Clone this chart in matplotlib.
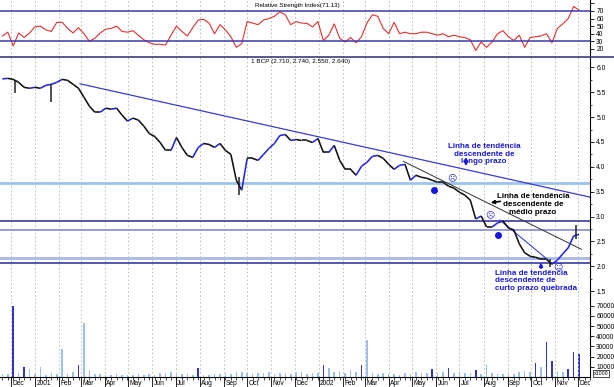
import numpy as np
import pandas as pd
import matplotlib
matplotlib.use('Agg')
import matplotlib.pyplot as plt
import matplotlib.dates as mdates
from matplotlib.collections import LineCollection
from matplotlib.lines import Line2D
from matplotlib.transforms import Bbox, TransformedBbox, ScaledTranslation

plt.rcParams['font.family'] = ['Liberation Sans', 'DejaVu Sans']

# weekly samples (one per week from 2000-11-20)
first_week = '2000-11-20'
close = [5.77, 5.78, 5.76, 5.70, 5.60, 5.58, 5.60, 5.58, 5.64, 5.66,
         5.70, 5.76, 5.74, 5.66, 5.58, 5.40, 5.22, 5.10, 5.10, 5.18,
         5.16, 5.18, 5.04, 4.92, 4.98, 4.94, 4.82, 4.67, 4.61, 4.49,
         4.33, 4.33, 4.59, 4.39, 4.23, 4.19, 4.39, 4.47, 4.45, 4.39,
         4.47, 4.33, 4.25, 3.73, 3.53, 4.17, 4.17, 4.13, 4.25, 4.37,
         4.47, 4.63, 4.65, 4.53, 4.55, 4.53, 4.53, 4.49, 4.57, 4.29,
         4.29, 4.43, 4.13, 3.95, 3.95, 3.83, 4.01, 4.09, 4.21, 4.23,
         4.17, 4.05, 3.95, 4.03, 4.05, 3.73, 3.83, 3.79, 3.77, 3.73,
         3.69, 3.69, 3.61, 3.57, 3.49, 3.43, 3.33, 2.95, 3.01, 2.79,
         2.79, 2.87, 2.91, 2.77, 2.73, 2.45, 2.27, 2.20, 2.18, 2.14,
         2.14, 2.04, 2.12, 2.25, 2.37, 2.61, 2.64]
rsi = [37, 42, 24, 41, 35, 41, 49, 50, 45, 43,
       55, 55, 47, 41, 48, 40, 30, 34, 41, 46,
       47, 50, 43, 42, 44, 38, 32, 28, 26, 26,
       25, 38, 50, 43, 37, 48, 58, 59, 54, 40,
       52, 45, 36, 22, 27, 56, 54, 52, 58, 60,
       63, 69, 65, 52, 56, 54, 53.6, 49, 56, 31,
       38, 53, 34, 29, 35, 28, 36, 54, 65, 63,
       47, 40, 55, 40, 42, 40, 40, 42, 42, 40,
       38, 40, 36, 38, 36, 35, 32, 18, 29, 22,
       29, 40, 44, 36, 31, 38, 22, 35, 36, 37,
       40, 28, 47, 53, 60, 76, 71.13]
volume = [3000, 2500, 70000, 4000, 10000, 8000, 3000, 10000, 2000, 4000,
          2500, 27500, 3000, 4500, 12000, 53000, 7000, 3000, 2500, 2000,
          1500, 2500, 2000, 1500, 2000, 3000, 2000, 2500, 1500, 3500,
          4000, 5000, 3000, 2500, 3000, 2000, 9000, 2000, 1500, 3000,
          2500, 3500, 3000, 4500, 5000, 3500, 3000, 4000, 3500, 4500,
          3000, 3500, 4000, 3000, 4500, 5000, 3000, 3500, 4000, 12000,
          9000, 5000, 6000, 4000, 6500, 5000, 12000, 36000, 4000, 3000,
          3500, 2500, 3000, 2000, 4000, 3000, 5000, 3500, 4000, 8000,
          4000, 5000, 9000, 4000, 5000, 3500, 4000, 7000, 3000, 12000,
          4000, 3000, 2500, 3000, 2500, 5000, 6000, 5000, 14000, 10000,
          34000, 16000, 6000, 5000, 8000, 25000, 23000]

# single-day extremes that stick out of the weekly line
spike_dates = ['2000-12-06', '2001-01-22', '2001-09-21', '2002-10-25', '2002-11-28']
spike_low = [5.48, 5.30, 3.43, 1.99, 2.55]
spike_high = [5.74, 5.66, 3.80, 2.14, 2.82]

levels = [3.68, 2.90, 2.72, 2.16, 2.06]
level_colors = ['#9cc4ee', '#3a3aa0', '#8a8ad0', '#a8b8e8', '#3a3aa0']
level_widths = [2.0, 1.2, 1.2, 2.0, 1.2]

long_dates, long_price = ['2001-02-28', '2002-12-16'], [5.67, 3.39]
mid_dates, mid_price = ['2002-04-20', '2002-12-05'], [4.11, 2.34]
short_dates, short_price = ['2002-08-22', '2002-10-22'], [2.93, 2.14]

dot_dates, dot_price = ['2002-05-29', '2002-08-20'], [3.53, 2.63]
face_dates = ['2002-06-21', '2002-08-09', '2002-11-05']
face_price = [3.77, 3.03, 1.99]
face_chars = ['\u2639', '\u2639', '\u263a']

# weeks whose volume bar is drawn dark blue
dark_vol_weeks = {2, 4, 14, 36, 59, 66, 79, 82, 87, 98, 100, 101, 104, 105, 106}

W, H = 614, 387
R = 590 / W


def fx(x):
    return x / W


def fy(y):
    return 1 - y / H


def box(top, bottom):
    return [0, 1 - bottom / H, R, (bottom - top) / H]


fig = plt.figure(figsize=(6.14, 3.87), dpi=100)
ax_rsi = fig.add_axes(box(0, 56.5))
ax_px = fig.add_axes(box(56.5, 300), sharex=ax_rsi)
ax_vol = fig.add_axes(box(300, 377), sharex=ax_rsi)

dates = pd.date_range(first_week, periods=len(close), freq='7D')
xd = mdates.date2num(dates)
close_a = np.array(close)

# RSI
ax_rsi.plot(dates, rsi, color='#e23030', lw=0.8)
ax_rsi.axhline(70, color='#3a3ab0', lw=1.1)
ax_rsi.axhline(30, color='#3a3ab0', lw=1.1)
ax_rsi.set_ylim(9.9, 84.5)
ax_rsi.set_yticks(range(20, 81, 10), ['20', '30', '40', '50', '60', '70', ''])

# price
for lv, c, w in zip(levels, level_colors, level_widths):
    ax_px.axhline(lv, color=c, lw=w)
ax_px.plot(pd.to_datetime(long_dates), long_price, color='#3c3cd0', lw=0.9)
ax_px.plot(pd.to_datetime(mid_dates), mid_price, color='#303030', lw=0.7)
ax_px.plot(pd.to_datetime(short_dates), short_price, color='#4040d0', lw=0.8)

pts = np.column_stack([xd, close_a])
segs = np.stack([pts[:-1], pts[1:]], axis=1)
seg_colors = ['#2424dc' if b > a else '#111111' for a, b in zip(close_a[:-1], close_a[1:])]
ax_px.add_collection(LineCollection(segs, colors=seg_colors, lw=1.15))
ax_px.vlines(pd.to_datetime(spike_dates), spike_low, spike_high, colors='#202020', lw=1.1)

ax_px.plot(pd.to_datetime(dot_dates), dot_price, 'o', ms=4, color='#1515e0')
for d, p, ch in zip(face_dates, face_price, face_chars):
    ax_px.text(pd.to_datetime(d), p, ch, fontsize=6.5, color='#2a2ae0',
               ha='center', va='center', family='DejaVu Sans')
ax_px.set_ylim(1.32, 6.22)
ax_px.set_yticks(np.arange(1.5, 6.01, 0.5), ['%.1f' % v for v in np.arange(1.5, 6.01, 0.5)])
ax_px.set_yticks(np.arange(1.5, 6.2, 0.25), minor=True)

# volume
vol_colors = ['#3434c8' if i in dark_vol_weeks else '#9cc0ee' for i in range(len(volume))]
ax_vol.bar(dates, volume, width=2.0, color=vol_colors, linewidth=0)
ax_vol.set_ylim(0, 75700)
ax_vol.set_yticks(range(10000, 70001, 10000))

# shared x axis: month grid
months = pd.date_range('2000-12-01', '2002-12-01', freq='MS')
mlabels = [str(m.year) if m.month == 1 else m.strftime('%b') for m in months]
ax_vol.set_xticks(months, mlabels)
ax_vol.xaxis.set_minor_locator(mdates.WeekdayLocator(byweekday=mdates.MO))
ax_vol.set_xlim(pd.Timestamp('2000-11-17'), pd.Timestamp('2002-12-16'))

for ax in (ax_rsi, ax_px, ax_vol):
    ax.yaxis.tick_right()
    ax.tick_params(axis='y', which='major', labelsize=4.8, length=3, width=0.6, pad=1.5)
    ax.tick_params(axis='y', which='minor', length=1.5, width=0.5)
    ax.grid(axis='x', which='major', color='#a8c4a8', ls=(0, (1.5, 2.5)), lw=0.7)
    ax.spines['top'].set_visible(False)
    ax.spines['left'].set_visible(False)
    ax.spines['right'].set_linewidth(0.8)
    ax.set_facecolor('none')
for ax in (ax_rsi, ax_px):
    ax.spines['bottom'].set_visible(False)
    ax.tick_params(axis='x', which='both', bottom=False, labelbottom=False)
ax_vol.spines['bottom'].set_linewidth(0.8)
ax_vol.tick_params(axis='x', which='major', labelsize=4.8, length=7, width=0.6, pad=-4.5)
ax_vol.tick_params(axis='x', which='minor', length=2.5, width=0.5)

clip = TransformedBbox(Bbox([[0, 0], [R, 1]]), fig.transFigure)
shift = ScaledTranslation(1.5 / 100, 0, fig.dpi_scale_trans)
for lbl in ax_vol.get_xticklabels():
    lbl.set_ha('left')
    lbl.set_transform(lbl.get_transform() + shift)
    lbl.set_clip_box(clip)
    lbl.set_clip_on(True)

fig.add_artist(Line2D([0, 1], [fy(56.5)] * 2, transform=fig.transFigure, color='#3c3c78', lw=1.2))

# titles and notes
fig.text(fx(297), fy(5.5), 'Relative Strength Index(71.13)', ha='center', va='center', fontsize=4.5)
fig.text(fx(301), fy(61.5), '1 BCP (2.710, 2.740, 2.550, 2.640)', ha='center', va='center', fontsize=4.6)
fig.text(fx(601), fy(373.5), 'x1000', ha='center', va='center', fontsize=3.8,
         bbox=dict(boxstyle='square,pad=0.15', fc='white', ec='black', lw=0.5))

note = dict(fontsize=5.8, fontweight='bold', va='center', linespacing=1.15)
fig.text(fx(484), fy(154), 'Linha de tendência\ndescendente de\nlongo prazo', ha='center', color='#1c1cd8', **note)
fig.text(fx(533), fy(204.5), 'Linha de tendência\ndescendente de\nmédio prazo', ha='center', color='black', **note)
fig.text(fx(495), fy(281), 'Linha de tendência\ndescendente de\ncurto prazo quebrada', ha='left', color='#1c1cd8', **note)

arrow = dict(xycoords='figure fraction', textcoords='figure fraction')
ax_px.annotate('', xy=(fx(466), fy(169)), xytext=(fx(466), fy(156)), **arrow,
               arrowprops=dict(arrowstyle='-|>', color='#1c1cd8', lw=1.4, mutation_scale=5))
ax_px.annotate('', xy=(fx(488), fy(203)), xytext=(fx(503), fy(201)), **arrow,
               arrowprops=dict(arrowstyle='-|>', color='black', lw=1.2, mutation_scale=5))
ax_px.annotate('', xy=(fx(541), fy(259.5)), xytext=(fx(541), fy(271)), **arrow,
               arrowprops=dict(arrowstyle='-|>', color='#1c1cd8', lw=1.3, mutation_scale=5))

fig.savefig('out.png', dpi=100)
